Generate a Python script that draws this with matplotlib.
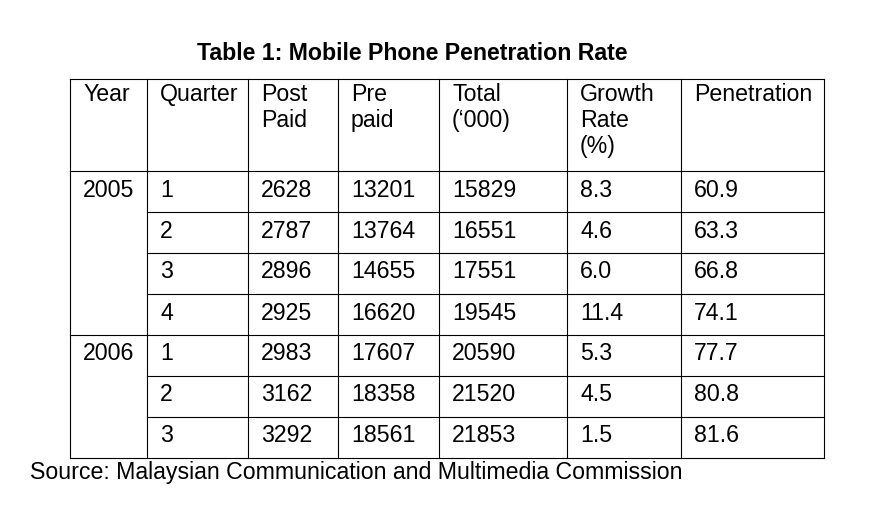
import matplotlib.pyplot as plt

plt.rcParams["font.family"] = "Liberation Sans"

TITLE = "Table 1: Mobile Phone Penetration Rate"
SOURCE = "Source: Malaysian Communication and Multimedia Commission"
headers = ["Year", "Quarter", "Post\nPaid", "Pre\npaid", "Total\n(\u2018000)", "Growth\nRate\n(%)", "Penetration"]
years = ["2005", "", "", "", "2006", "", ""]
quarters = ["1", "2", "3", "4", "1", "2", "3"]
post_paid = ["2628", "2787", "2896", "2925", "2983", "3162", "3292"]
pre_paid = ["13201", "13764", "14655", "16620", "17607", "18358", "18561"]
total = ["15829", "16551", "17551", "19545", "20590", "21520", "21853"]
growth = ["8.3", "4.6", "6.0", "11.4", "5.3", "4.5", "1.5"]
penetration = ["60.9", "63.3", "66.8", "74.1", "77.7", "80.8", "81.6"]

col_x = [70, 147, 248, 338, 439, 567, 681, 824]
top, head_bottom, row_h = 80, 172, 41
n_rows = len(quarters)
bottom = head_bottom + row_h * n_rows

fig = plt.figure(figsize=(8.71, 5.06), dpi=100)
ax = fig.add_axes([0, 0, 1, 1])
ax.set_xlim(0, 871)
ax.set_ylim(506, 0)
ax.axis("off")

lw = 0.8
for x in col_x:
    ax.plot([x, x], [top, bottom], color="black", lw=lw)
ax.plot([col_x[0], col_x[-1]], [top, top], color="black", lw=lw)
ax.plot([col_x[0], col_x[-1]], [head_bottom, head_bottom], color="black", lw=lw)
for i in range(1, n_rows + 1):
    y = head_bottom + row_h * i
    # year cells are merged: only draw across the year column where a new year starts
    x0 = col_x[0] if (i == n_rows or years[i]) else col_x[1]
    ax.plot([x0, col_x[-1]], [y, y], color="black", lw=lw)

fs = 16.7
pad = 13
for j, h in enumerate(headers):
    ax.text(col_x[j] + pad, top + 3, h, fontsize=fs, va="top", ha="left", linespacing=1.16)

columns = [years, quarters, post_paid, pre_paid, total, growth, penetration]
for j, col in enumerate(columns):
    for i, v in enumerate(col):
        ax.text(col_x[j] + pad, head_bottom + row_h * i + 18, v, fontsize=fs, va="center", ha="left")

ax.text(412, 53, TITLE, fontsize=16.7, fontweight="bold", ha="center", va="center")
ax.text(30, 473, SOURCE, fontsize=16.7, ha="left", va="center")

fig.savefig("out.png", dpi=100)
